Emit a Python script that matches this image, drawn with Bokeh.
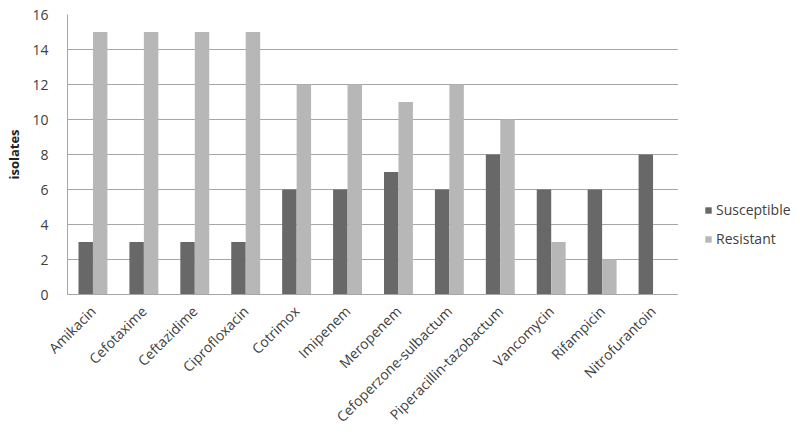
import math
from bokeh.plotting import figure
from bokeh.layouts import row
from bokeh.models import ColumnDataSource, FactorRange, Legend, LegendItem, Range1d, FixedTicker
from bokeh.transform import dodge
from bokeh.embed import file_html
from bokeh.resources import INLINE

categories = ["Amikacin", "Cefotaxime", "Ceftazidime", "Ciprofloxacin", "Cotrimox",
              "Imipenem", "Meropenem", "Cefoperzone-sulbactum", "Piperacillin-tazobactum",
              "Vancomycin", "Rifampicin", "Nitrofurantoin"]
susceptible = [3, 3, 3, 3, 6, 6, 7, 6, 8, 6, 6, 8]
resistant = [15, 15, 15, 15, 12, 12, 11, 12, 10, 3, 2, 0]
y_ticks = [0, 2, 4, 6, 8, 10, 12, 14, 16]
series_names = ["Susceptible", "Resistant"]
series_colors = ["#686868", "#b7b7b7"]

src = ColumnDataSource(dict(cat=categories, s=susceptible, r=resistant))

FONT = "Open Sans"
TXT = "#404040"
H = 436

p = figure(width=678, height=H, output_backend="svg", toolbar_location=None,
           x_range=FactorRange(*categories, range_padding=0),
           y_range=Range1d(0, 16),
           min_border_left=67, min_border_right=0, min_border_top=14, min_border_bottom=H - 294)
p.outline_line_color = None
p.background_fill_color = "white"

p.vbar(x=dodge("cat", -0.142, range=p.x_range), top="s", width=0.284, source=src,
       fill_color=series_colors[0], line_color=None)
p.vbar(x=dodge("cat", 0.142, range=p.x_range), top="r", width=0.284, source=src,
       fill_color=series_colors[1], line_color=None)

p.xgrid.grid_line_color = None
p.ygrid.grid_line_color = "#a6a6a6"
p.ygrid.grid_line_width = 1

p.yaxis.ticker = FixedTicker(ticks=y_ticks)
p.yaxis.axis_label = "isolates"
p.yaxis.axis_label_text_font = FONT
p.yaxis.axis_label_text_font_style = "bold"
p.yaxis.axis_label_text_font_size = "13px"
p.yaxis.axis_label_text_color = "#222222"
p.yaxis.axis_label_standoff = 6

for ax in (p.xaxis, p.yaxis):
    ax.axis_line_color = "#a6a6a6"
    ax.major_tick_line_color = None
    ax.minor_tick_line_color = None
    ax.major_label_text_font = FONT
    ax.major_label_text_font_size = "14px"
    ax.major_label_text_color = TXT

p.yaxis.major_label_standoff = 13
p.xaxis.major_label_orientation = math.pi / 4
p.xaxis.major_label_standoff = 8

# legend panel
pl = figure(width=800 - 678 - 2, height=H, output_backend="svg", toolbar_location=None,
            x_range=Range1d(0, 1), y_range=Range1d(0, 1),
            min_border_left=0, min_border_right=0, min_border_top=14, min_border_bottom=H - 294)
pl.axis.visible = False
pl.grid.visible = False
pl.outline_line_color = None
r0 = pl.rect(x=[5], y=[5], width=1, height=1, fill_color=series_colors[0], line_color=None)
r1 = pl.rect(x=[5], y=[5], width=1, height=1, fill_color=series_colors[1], line_color=None)
legend = Legend(items=[LegendItem(label=series_names[0], renderers=[r0]),
                       LegendItem(label=series_names[1], renderers=[r1])],
                location=(26, 46), border_line_color=None, background_fill_alpha=0,
                glyph_width=8, glyph_height=8, spacing=10, label_standoff=4,
                label_text_font=FONT, label_text_font_size="14px", label_text_color=TXT,
                padding=0, margin=0)
pl.add_layout(legend, "center")

layout = row(p, pl)
open("out.html", "w").write(file_html(layout, INLINE))
